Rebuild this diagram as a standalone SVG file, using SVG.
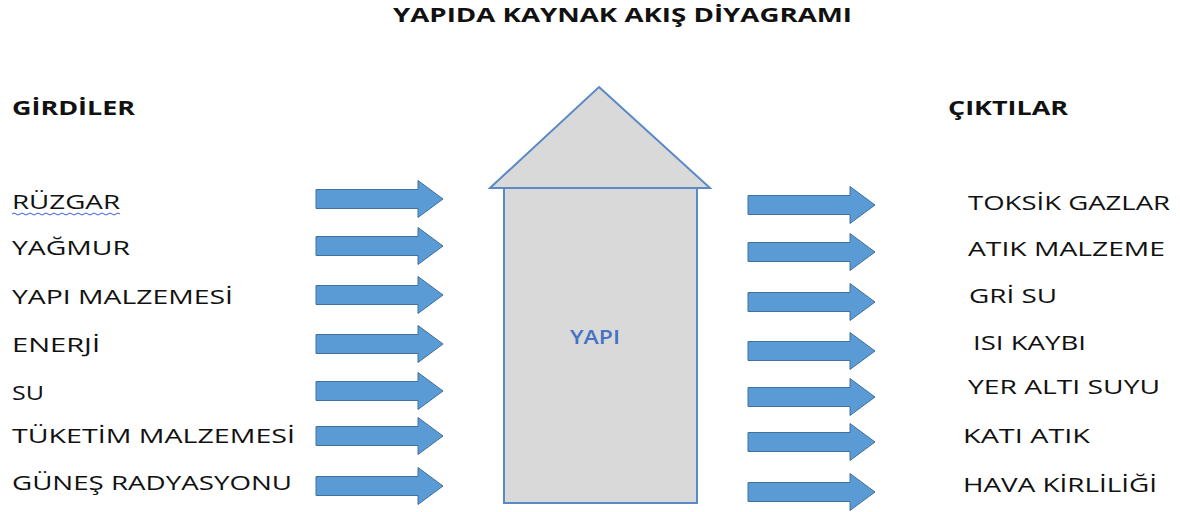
<svg xmlns="http://www.w3.org/2000/svg" xmlns:xlink="http://www.w3.org/1999/xlink" width="1180" height="512" viewBox="0 0 1180 512">
<style>
.t{font-family:"Open Sans","Liberation Sans",sans-serif;font-size:20px;fill:#111111}
.b{font-weight:bold}
.arr{fill:#5b9bd5;stroke:#41719c;stroke-width:1}
.house{fill:#d9d9d9;stroke:#5a8ac6;stroke-width:2}
.lbl{font-family:"Open Sans","Liberation Sans",sans-serif;font-size:19px;font-weight:600;fill:#4472c4}
</style>
<defs>
<path id="blk" d="M0,-9.5 H102 V-18.5 L127,0 L102,18.5 V9.5 H0 Z"/>
</defs>
<rect width="1180" height="512" fill="#ffffff"/>
<g id="title"><text class="t b" x="393" y="22" textLength="459" lengthAdjust="spacingAndGlyphs">YAPIDA KAYNAK AKIŞ DİYAGRAMI</text></g>
<g id="girdiler"><text class="t b" x="12" y="115" textLength="123" lengthAdjust="spacingAndGlyphs">GİRDİLER</text></g>
<g id="ciktilar"><text class="t b" x="948" y="115" textLength="120" lengthAdjust="spacingAndGlyphs">ÇIKTILAR</text></g>
<g id="yapi">
<rect class="house" x="504" y="188" width="193" height="315"/>
<polygon class="house" points="599,87 710,188 490,188"/>
<text class="lbl" x="570" y="344" textLength="50" lengthAdjust="spacingAndGlyphs">YAPI</text>
</g>
<g id="in-ruzgar"><text class="t" x="12" y="209" textLength="108" lengthAdjust="spacingAndGlyphs">RÜZGAR</text>
<path d="M12,214 q2,-2 4,0 t4,0 t4,0 t4,0 t4,0 t4,0 t4,0 t4,0 t4,0 t4,0 t4,0 t4,0 t4,0 t4,0 t4,0 t4,0 t4,0 t4,0 t4,0 t4,0 t4,0 t4,0 t4,0 t4,0 t4,0 t4,0 t4,0" fill="none" stroke="#3b5bdb" stroke-width="1"/></g>
<g id="in-yagmur"><text class="t" x="12" y="255" textLength="118" lengthAdjust="spacingAndGlyphs">YAĞMUR</text></g>
<g id="in-yapimalz"><text class="t" x="12" y="304" textLength="221" lengthAdjust="spacingAndGlyphs">YAPI MALZEMESİ</text></g>
<g id="in-enerji"><text class="t" x="12" y="352" textLength="88" lengthAdjust="spacingAndGlyphs">ENERJİ</text></g>
<g id="in-su"><text class="t" x="12" y="400" textLength="32" lengthAdjust="spacingAndGlyphs">SU</text></g>
<g id="in-tuketim"><text class="t" x="12" y="443" textLength="283" lengthAdjust="spacingAndGlyphs">TÜKETİM MALZEMESİ</text></g>
<g id="in-gunes"><text class="t" x="12" y="490" textLength="280" lengthAdjust="spacingAndGlyphs">GÜNEŞ RADYASYONU</text></g>
<g id="out-toksik"><text class="t" x="968" y="210" textLength="202" lengthAdjust="spacingAndGlyphs">TOKSİK GAZLAR</text></g>
<g id="out-atik"><text class="t" x="968" y="256" textLength="197" lengthAdjust="spacingAndGlyphs">ATIK MALZEME</text></g>
<g id="out-grisu"><text class="t" x="969" y="303" textLength="88" lengthAdjust="spacingAndGlyphs">GRİ SU</text></g>
<g id="out-isi"><text class="t" x="973" y="350" textLength="113" lengthAdjust="spacingAndGlyphs">ISI KAYBI</text></g>
<g id="out-yeralti"><text class="t" x="968" y="394" textLength="192" lengthAdjust="spacingAndGlyphs">YER ALTI SUYU</text></g>
<g id="out-kati"><text class="t" x="963" y="443" textLength="127" lengthAdjust="spacingAndGlyphs">KATI ATIK</text></g>
<g id="out-hava"><text class="t" x="963" y="492" textLength="194" lengthAdjust="spacingAndGlyphs">HAVA KİRLİLİĞİ</text></g>
<g id="connectors">
<use xlink:href="#blk" class="arr" x="316" y="199"/>
<use xlink:href="#blk" class="arr" x="316" y="246"/>
<use xlink:href="#blk" class="arr" x="316" y="295"/>
<use xlink:href="#blk" class="arr" x="316" y="344"/>
<use xlink:href="#blk" class="arr" x="316" y="391"/>
<use xlink:href="#blk" class="arr" x="316" y="436"/>
<use xlink:href="#blk" class="arr" x="316" y="486"/>
<use xlink:href="#blk" class="arr" x="748" y="205"/>
<use xlink:href="#blk" class="arr" x="748" y="252"/>
<use xlink:href="#blk" class="arr" x="748" y="302"/>
<use xlink:href="#blk" class="arr" x="748" y="351"/>
<use xlink:href="#blk" class="arr" x="748" y="397"/>
<use xlink:href="#blk" class="arr" x="748" y="442"/>
<use xlink:href="#blk" class="arr" x="748" y="492"/>
</g>
</svg>
